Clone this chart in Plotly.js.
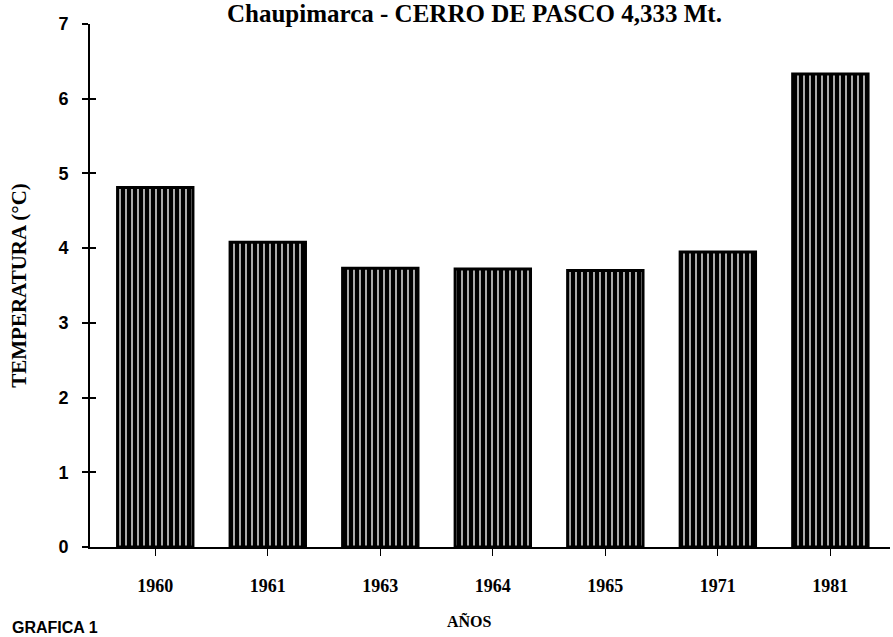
<!DOCTYPE html>
<html>
<head>
<meta charset="utf-8">
<script src="https://cdn.plot.ly/plotly-3.0.1.min.js"></script>
<style>html,body{margin:0;padding:0;background:#fff;}#chart{width:893px;height:637px;}</style>
</head>
<body>
<div id="chart"></div>
<script>
const years = ["1960", "1961", "1963", "1964", "1965", "1971", "1981"];
const temperatures = [4.81, 4.08, 3.73, 3.72, 3.70, 3.95, 6.33];
const yTicks = [0, 1, 2, 3, 4, 5, 6, 7];
const yTickText = ["0", "1", "2", "3", "4", "5", "6", "7"];
const titleText = "Chaupimarca - CERRO DE PASCO 4,333 Mt.";
const xTitle = "AÑOS";
const yTitle = "TEMPERATURA (°C)";
const footText = "GRAFICA 1";

const serif = "Liberation Serif, Times New Roman, serif";
const sans = "Liberation Sans, Arial, sans-serif";

const trace = {
  type: "bar",
  x: years,
  y: temperatures,
  width: 0.67,
  marker: {
    color: "#ffffff",
    line: { color: "#000000", width: 3 },
    pattern: { shape: "|", fgcolor: "#000000", bgcolor: "#ffffff", size: 6, solidity: 0.78 }
  },
  hoverinfo: "skip"
};

const layout = {
  width: 893,
  height: 637,
  margin: { l: 90, r: 3, t: 24, b: 90 },
  paper_bgcolor: "#ffffff",
  plot_bgcolor: "#ffffff",
  showlegend: false,
  xaxis: {
    type: "category",
    range: [-0.58, 6.53],
    showgrid: false,
    zeroline: false,
    showline: true,
    linecolor: "#000000",
    linewidth: 2,
    ticks: "outside",
    ticklen: 7,
    tickwidth: 1,
    tickcolor: "#000000",
    ticklabelstandoff: 14,
    tickfont: { family: serif, size: 18, color: "#000000", weight: "bold" }
  },
  yaxis: {
    range: [0, 7],
    tickvals: yTicks,
    ticktext: yTickText,
    showgrid: false,
    zeroline: false,
    showline: true,
    linecolor: "#000000",
    linewidth: 2,
    ticks: "outside",
    ticklen: 6,
    tickwidth: 2,
    tickcolor: "#000000",
    ticklabelstandoff: 10,
    tickfont: { family: sans, size: 18, color: "#000000", weight: "bold" }
  },
  yaxis2: {
    overlaying: "y",
    range: [0, 7],
    tickvals: yTicks,
    showticklabels: false,
    showgrid: false,
    zeroline: false,
    showline: false,
    ticks: "inside",
    ticklen: 6,
    tickwidth: 2,
    tickcolor: "#000000",
    side: "left"
  },
  annotations: [
    {
      text: titleText, xref: "paper", yref: "paper", x: 0.48, y: 1.02,
      xanchor: "center", yanchor: "middle", showarrow: false,
      font: { family: serif, size: 25, color: "#000000", weight: "bold" }
    },
    {
      text: xTitle, xref: "paper", yref: "paper", x: 0.474, y: -0.142,
      xanchor: "center", yanchor: "middle", showarrow: false,
      font: { family: serif, size: 16, color: "#000000", weight: "bold" }
    },
    {
      text: yTitle, xref: "paper", yref: "paper", x: -0.0897, y: 0.5,
      xanchor: "center", yanchor: "middle", textangle: -90, showarrow: false,
      font: { family: serif, size: 21, color: "#000000", weight: "bold" }
    },
    {
      text: footText, xref: "paper", yref: "paper", x: -0.1, y: -0.153,
      xanchor: "left", yanchor: "middle", showarrow: false,
      font: { family: sans, size: 16, color: "#000000", weight: "bold" }
    }
  ]
};

const overlayTrace = { type: "scatter", x: [years[0]], y: [null], yaxis: "y2", hoverinfo: "skip", showlegend: false };

Plotly.newPlot("chart", [trace, overlayTrace], layout, { displayModeBar: false, staticPlot: true });
</script>
</body>
</html>
